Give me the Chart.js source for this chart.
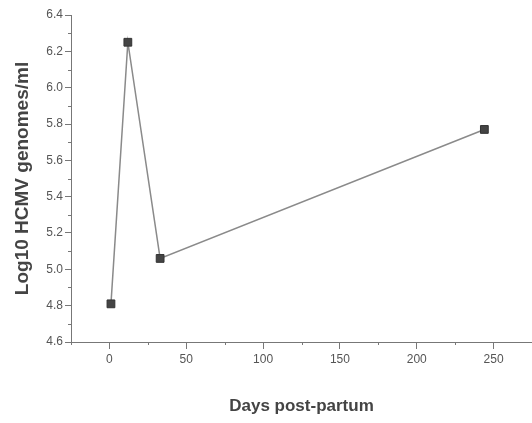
<!DOCTYPE html>
<html>
<head>
<meta charset="utf-8">
<script src="https://cdn.jsdelivr.net/npm/chart.js@4"></script>
<style>
html,body{margin:0;padding:0;background:#fff;}
#wrap{width:532px;height:423px;position:relative;}
</style>
</head>
<body>
<div id="wrap"><canvas id="c" width="532" height="423"></canvas></div>
<script>
// ---- data ----
const days = [1, 12, 33, 244];
const log10Genomes = [4.81, 6.25, 5.06, 5.77];
const xTickValues = [0, 50, 100, 150, 200, 250];
const xMinorTicks = [-25, 25, 75, 125, 175, 225, 275];
const yTickValues = [4.6, 4.8, 5.0, 5.2, 5.4, 5.6, 5.8, 6.0, 6.2, 6.4];
const yMinorTicks = [4.7, 4.9, 5.1, 5.3, 5.5, 5.7, 5.9, 6.1, 6.3];
const xTitle = 'Days post-partum';
const yTitle = 'Log10 HCMV genomes/ml';

const points = days.map((d, i) => ({x: d, y: log10Genomes[i]}));
const axisColor = '#777';
const fontFam = '"Liberation Sans", Arial, sans-serif';

const minorTicksPlugin = {
  id: 'minorTicks',
  afterDraw(chart) {
    const {ctx, scales: {x, y}} = chart;
    ctx.save();
    ctx.strokeStyle = axisColor;
    ctx.lineWidth = 1;
    ctx.beginPath();
    xMinorTicks.forEach(v => {
      const px = Math.round(x.getPixelForValue(v)) + 0.5;
      ctx.moveTo(px, x.top);
      ctx.lineTo(px, x.top + 3);
    });
    yMinorTicks.forEach(v => {
      const py = Math.round(y.getPixelForValue(v)) + 0.5;
      ctx.moveTo(y.right, py);
      ctx.lineTo(y.right - 3, py);
    });
    ctx.stroke();
    ctx.restore();
  }
};

new Chart(document.getElementById('c'), {
  type: 'scatter',
  data: {
    datasets: [{
      data: points,
      showLine: true,
      borderColor: '#8a8a8a',
      borderWidth: 1.5,
      pointStyle: 'rect',
      pointRadius: 5.5,
      pointHoverRadius: 5.5,
      pointBackgroundColor: '#444',
      pointBorderColor: '#333',
      pointBorderWidth: 1
    }]
  },
  options: {
    responsive: false,
    animation: false,
    layout: {autoPadding: false, padding: {top: 15, right: 0, bottom: 0, left: 0}},
    plugins: {legend: {display: false}, tooltip: {enabled: false}},
    scales: {
      x: {
        type: 'linear',
        min: -25,
        max: 275,
        afterBuildTicks: s => { s.ticks = xTickValues.map(v => ({value: v})); },
        afterFit: s => { s.height = 81; },
        grid: {display: true, drawOnChartArea: false, drawTicks: true, tickLength: 7, color: axisColor},
        border: {display: true, color: axisColor, width: 1},
        ticks: {color: '#555', font: {family: fontFam, size: 12}, padding: 3, maxRotation: 0, callback: v => String(v)},
        title: {display: true, text: xTitle, color: '#444', font: {family: fontFam, size: 17, weight: 'bold'}, padding: {top: 0, bottom: 6}}
      },
      y: {
        type: 'linear',
        min: 4.6,
        max: 6.4,
        afterBuildTicks: s => { s.ticks = yTickValues.map(v => ({value: v})); },
        afterFit: s => { s.width = 71; },
        grid: {display: true, drawOnChartArea: false, drawTicks: true, tickLength: 6, color: axisColor},
        border: {display: true, color: axisColor, width: 1},
        ticks: {color: '#555', font: {family: fontFam, size: 12}, padding: 2, callback: v => Number(v).toFixed(1)},
        title: {display: true, text: yTitle, color: '#444', font: {family: fontFam, size: 19, weight: 'bold'}, padding: {top: 11, bottom: 0}}
      }
    }
  },
  plugins: [minorTicksPlugin]
});
</script>
</body>
</html>
